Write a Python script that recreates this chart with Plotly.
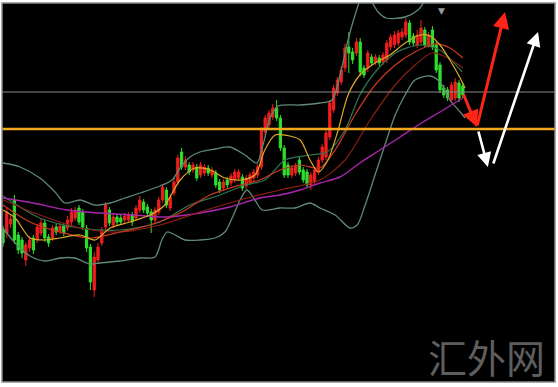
import plotly.graph_objects as go

# ---- candle data (bar index, OHLC) ----
bars = list(range(122))
opens = [157,154,163,187,152,147,127,139,149,147,154,164,150,149,160,156,161,159,165,169,
         179,175,159,140,97,127,144,160,177,162,170,169,167,167,172,169,177,185,180,175,
         167,175,187,197,179,194,205,235,220,222,217,220,212,214,219,212,214,205,199,207,
         204,207,209,210,201,205,209,212,220,255,262,270,279,269,239,222,212,214,227,217,
         215,202,205,215,227,230,250,277,294,305,319,340,335,334,345,319,319,330,325,329,
         325,327,340,342,344,350,352,364,351,342,345,357,342,357,342,322,299,297,287,289,
         304,301]
highs = [161,179,172,192,155,150,145,151,152,163,168,167,153,162,163,164,164,171,179,180,
         182,178,162,143,135,144,160,185,180,174,173,172,174,175,175,182,191,188,183,178,
         180,190,203,200,193,209,232,239,231,225,225,223,225,223,222,220,217,208,208,210,
         214,218,218,213,212,215,218,223,260,272,277,283,287,272,242,225,222,224,230,220,
         218,215,220,230,243,257,287,302,310,321,343,355,339,349,349,322,337,333,333,332,
         335,347,353,356,357,359,369,367,354,357,367,360,355,361,345,325,302,300,305,309,
         307,304]
lows = [140,149,159,143,133,129,121,135,133,144,151,145,140,146,152,153,151,156,162,166,
        162,157,135,97,90,124,141,157,161,159,162,162,164,164,161,166,174,174,171,154,
        164,172,184,179,176,191,202,217,217,212,214,206,209,211,211,209,199,194,196,199,
        201,204,206,196,198,202,206,209,217,252,259,267,266,236,209,209,209,211,212,204,
        199,197,202,212,224,227,247,274,291,302,315,314,323,331,311,309,315,321,322,321,
        322,324,337,339,341,347,349,342,341,339,342,339,339,337,314,294,289,286,284,286,
        285,289]
closes = [144,175,168,147,137,134,142,147,137,160,164,149,144,159,155,161,154,167,175,177,
          165,160,139,105,130,140,157,182,164,170,165,165,171,172,165,179,187,177,174,167,
          177,187,200,182,190,205,229,220,227,215,222,209,222,220,214,217,202,197,205,202,
          211,215,215,199,209,212,215,220,257,269,274,279,269,239,212,212,219,221,215,207,
          202,212,217,227,240,254,284,299,307,317,339,334,327,345,315,312,334,324,330,324,
          332,344,350,352,354,355,365,345,344,352,359,342,352,340,317,297,292,289,302,305,
          289,292]

# ---- indicator lines (bar index, value) ----
bb_upper_x = [0,4.5,9.7,13.7,16.3,20.3,24.2,28.2,32.1,36.1,41.3,44.5,46.6,49.2,51.8,55.8,59.7,63.7,
              66.8,68.4,70.3,72.4,78.2,83.4,86.6,88.7,90.8,92.9,94.5,96.6,98.7,100.8,105.8,109.2,111.3,115,121]
bb_upper_y = [224,220,209,195,184,187,182,184,189,194,201,207,219,230,235,238,240,232,
              224,242,269,281,282,284,287,312,347,375,390,387,375,369,370,377,387,395,397]

bb_lower_x = [0,3.2,7.1,11.1,15,18.9,22.9,25.5,30.8,36,40,41.8,43.2,45.3,47.9,51.8,55.8,58.4,60.3,
              62.4,64.2,66.3,68.2,72.9,76.8,80.8,83.4,87.4,91.3,93.2,95.3,97.9,100.5,103.2,105.8,
              108.4,112.4,115,117.6,120.3,121.6]
bb_lower_y = [159,144,131,126,129,129,123,124,126,129,130,147,155,152,147,147,149,155,169,
              187,197,187,177,179,179,184,179,172,159,162,182,212,242,272,292,
              307,311,305,287,275,269]

bb_mid_x = [0,9.7,20.3,30.8,41.3,49.2,57.1,63.7,68.9,74.2,80.8,85.3,90,93.9,98.4,103.7,109.7,115,120.8]
bb_mid_y = [191,169,159,157,165,182,192,202,207,227,232,235,257,292,317,335,342,337,315]

ma_yellow_x = [0,3.2,7.1,11.1,15,20.3,24.2,28.2,33.4,38.7,42.6,46.6,50.5,54.5,58.4,62.4,66.3,68.9,
               71.6,75.5,78.2,80.8,83,85.5,88.2,90.8,93.9,97.9,101.8,105.8,109.7,112.4,115,117.6,120.3,121.6]
ma_yellow_y = [177,169,149,147,149,152,147,159,165,172,182,207,219,217,209,207,212,237,
               252,251,247,227,215,227,257,292,312,324,332,344,352,351,342,327,309,299]

ma_red_x = [0,7.1,15,22.9,30.8,38.7,46.6,54.5,62.4,67.6,72.9,78.2,83.4,87.4,92.6,97.9,103.2,108.4,113.7,117.6,121]
ma_red_y = [182,165,155,149,155,162,174,192,202,207,217,222,219,237,272,302,322,335,343,339,329]

ma_darkred_x = [0,9.7,20.3,30.8,41.3,51.8,62.4,72.9,83.4,90,96.6,103.2,108.4,112.9,117.1,121]
ma_darkred_y = [187,172,159,155,162,175,187,197,207,227,267,302,322,334,329,319]

ma_magenta_x = [0,7.9,16.8,25.5,34.2,43.2,51.8,59.7,67.6,72.9,78.2,83.4,88.7,93.9,99.2,104.5,109.7,115,121]
ma_magenta_y = [189,184,177,174,172,170,174,180,189,192,197,204,210,224,237,250,263,275,289]

# horizontal levels
level_gray = 295
level_orange = 258

# forecast arrows: (tail_x, tail_y, head_x, head_y)
red_arrows = [(121.05, 294, 124.7, 260), (124.7, 260, 132.1, 375)]
white_arrows = [(125.0, 257, 127.6, 220), (128.9, 222, 140.8, 355)]

watermark = "汇外网"

fig = go.Figure()

line_specs = [
    (bb_upper_x, bb_upper_y, "#5e8a76", 1.3),
    (bb_lower_x, bb_lower_y, "#5e8a76", 1.3),
    (bb_mid_x, bb_mid_y, "#2f7552", 1.2),
    (ma_magenta_x, ma_magenta_y, "#a826ac", 1.4),
    (ma_darkred_x, ma_darkred_y, "#8a1e12", 1.2),
    (ma_red_x, ma_red_y, "#cc3820", 1.2),
    (ma_yellow_x, ma_yellow_y, "#dcaa28", 1.2),
]
for xs, ys, col, w in line_specs:
    fig.add_trace(go.Scatter(x=xs, y=ys, mode="lines", line=dict(color=col, width=w, shape="spline", smoothing=0.8),
                             hoverinfo="skip", showlegend=False))

fig.add_trace(go.Candlestick(
    x=bars, open=opens, high=highs, low=lows, close=closes,
    increasing=dict(line=dict(color="#f01e1e", width=1), fillcolor="#f01e1e"),
    decreasing=dict(line=dict(color="#2ee02e", width=1), fillcolor="#2ee02e"),
    whiskerwidth=0, showlegend=False, hoverinfo="skip"))

shapes = [
    dict(type="line", xref="paper", x0=0, x1=1, yref="y", y0=level_gray, y1=level_gray,
         line=dict(color="#8a8a8a", width=1)),
    dict(type="line", xref="paper", x0=0, x1=1, yref="y", y0=level_orange, y1=level_orange,
         line=dict(color="#f2a71e", width=2.5)),
    dict(type="rect", xref="paper", yref="paper", x0=0, x1=1, y0=0, y1=1,
         line=dict(color="#8c8c8c", width=1.5)),
]

annotations = []
for (tx, ty, hx, hy) in red_arrows:
    annotations.append(dict(x=hx, y=hy, ax=tx, ay=ty, xref="x", yref="y", axref="x", ayref="y",
                            showarrow=True, arrowhead=2, arrowsize=1.1, arrowwidth=3,
                            arrowcolor="#ff2418", text="", standoff=0))
for (tx, ty, hx, hy) in white_arrows:
    annotations.append(dict(x=hx, y=hy, ax=tx, ay=ty, xref="x", yref="y", axref="x", ayref="y",
                            showarrow=True, arrowhead=2, arrowsize=1.1, arrowwidth=2.6,
                            arrowcolor="#ffffff", text="", standoff=0))
annotations.append(dict(x=0.876, y=0.068, xref="paper", yref="paper", text=watermark, showarrow=False,
                        font=dict(family="Noto Sans CJK SC", size=39, color="#5e5e5e"),
                        xanchor="center", yanchor="middle"))
annotations.append(dict(x=0.794, y=0.997, xref="paper", yref="paper", text="▼", showarrow=False,
                        font=dict(family="DejaVu Sans", size=9, color="#9a9a9a"),
                        xanchor="center", yanchor="top"))

fig.update_layout(
    width=558, height=387,
    margin=dict(l=2, r=3, t=3, b=5),
    paper_bgcolor="#ffffff", plot_bgcolor="#000000",
    shapes=shapes, annotations=annotations,
    showlegend=False, boxgap=0.15,
    xaxis=dict(range=[-0.263, 145.26], visible=False, rangeslider=dict(visible=False), fixedrange=True),
    yaxis=dict(range=[5, 384], visible=False, fixedrange=True),
)

fig.write_html("out.html", config={"displayModeBar": False, "staticPlot": True},
               post_script="document.body.style.margin='0';document.body.style.padding='0';"
                           "document.documentElement.style.overflow='hidden';")
